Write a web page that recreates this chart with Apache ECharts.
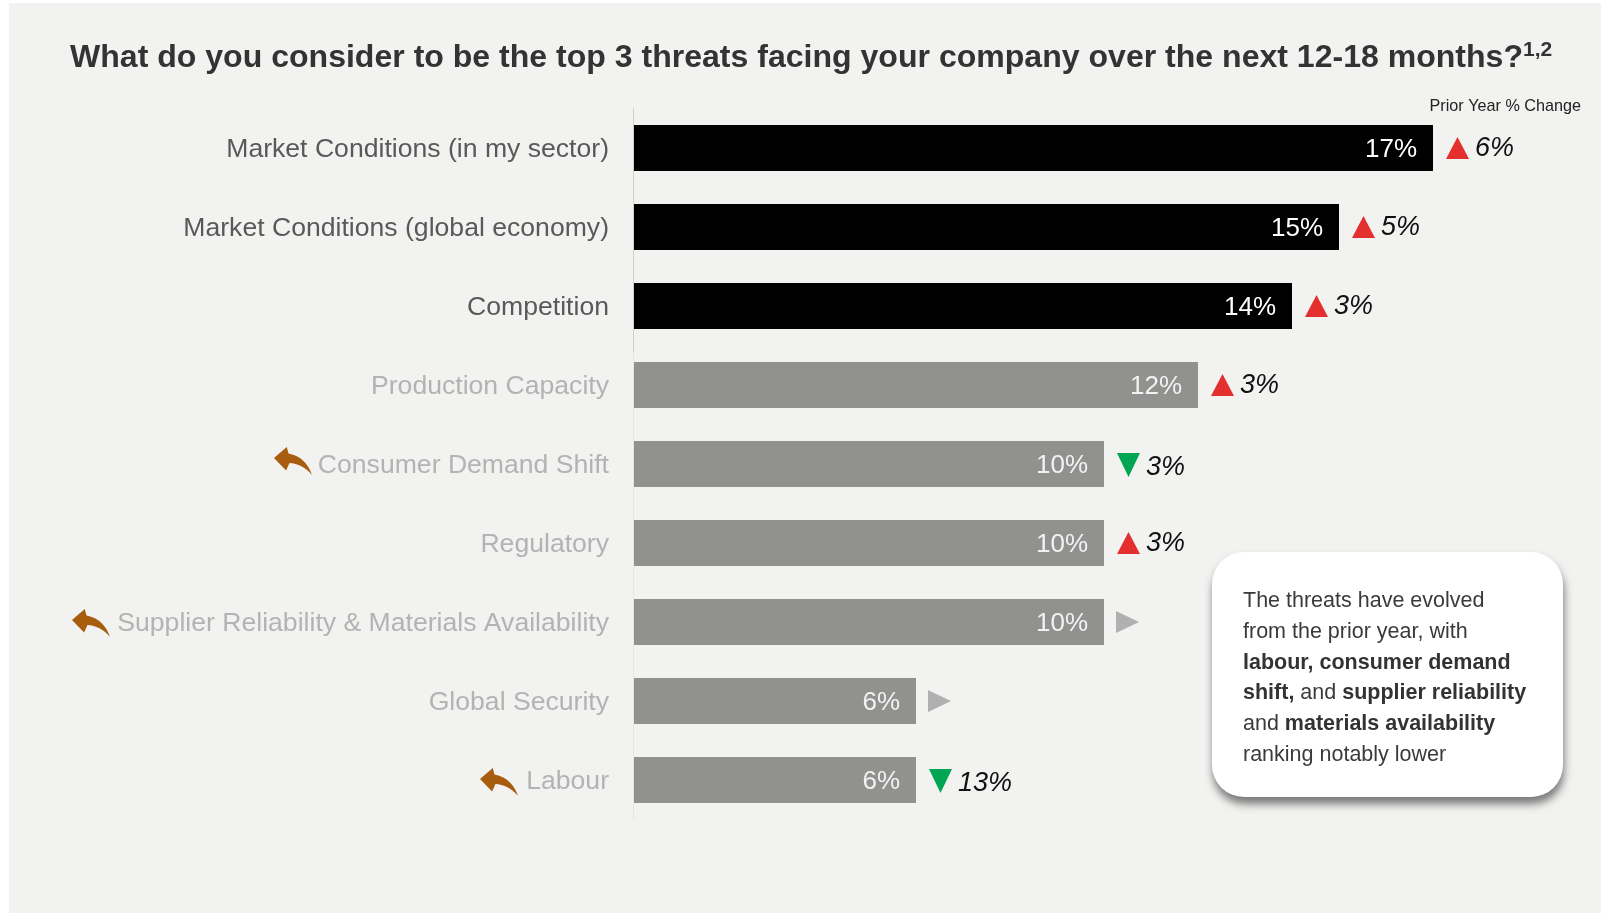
<!DOCTYPE html>
<html>
<head>
<meta charset="utf-8">
<style>html,body{margin:0;padding:0;background:#fff}#chart{width:1608px;height:913px}</style>
<script src="https://cdn.jsdelivr.net/npm/echarts@6/dist/echarts.min.js"></script>
</head>
<body>
<div id="chart"></div>
<script>
// Survey results, highest share first
const categories = [
  'Market Conditions (in my sector)',
  'Market Conditions (global economy)',
  'Competition',
  'Production Capacity',
  'Consumer Demand Shift',
  'Regulatory',
  'Supplier Reliability & Materials Availability',
  'Global Security',
  'Labour'
];
const shares = [17, 15, 14, 12, 10, 10, 10, 6, 6];
// Change against the prior year; 0 means flat
const priorYearChange = [6, 5, 3, 3, -3, 3, 0, 0, -13];
// Threats that moved down the ranking get a return arrow beside their name
const returningThreats = ['Consumer Demand Shift', 'Supplier Reliability & Materials Availability', 'Labour'];
const titleText = 'What do you consider to be the top 3 threats facing your company over the next 12-18 months?';
const footnoteMarks = '1,2';
const changeHeading = 'Prior Year % Change';

const FONT = '"Liberation Sans", Arial, sans-serif';
const HIGHLIGHT_COUNT = 3;
const ARROW_PATH = 'path://M0 32L38 0L43 19C83 27 103 52 113 82C95 60 70 48 46 47L36 69Z';
const arrowOffsets = { 'Consumer Demand Shift': [-341, -3], 'Supplier Reliability & Materials Availability': [-543, 1], 'Labour': [-135, 2] };

const chart = echarts.init(document.getElementById('chart'), null, { renderer: 'canvas' });

function renderChange(params, api) {
  const end = api.coord([api.value(0), api.value(1)]);
  const delta = api.value(2);
  const cy = end[1];
  const left = end[0] + 13;
  const w = 23, h = 22;
  let points, fill;
  if (delta > 0) {
    points = [[left, cy + h / 2], [left + w / 2, cy - h / 2], [left + w, cy + h / 2]];
    fill = '#e32f2e';
  } else if (delta < 0) {
    points = [[left, cy - h / 2], [left + w, cy - h / 2], [left + w / 2, cy + h / 2 + 2]];
    fill = '#00a651';
  } else {
    points = [[left - 1, cy - h / 2], [left + w - 1, cy], [left - 1, cy + h / 2]];
    fill = '#b0b0b0';
  }
  const children = [{ type: 'polygon', shape: { points }, style: { fill } }];
  if (delta !== 0) {
    children.push({
      type: 'text',
      style: {
        text: Math.abs(delta) + '%', x: left + 29, y: delta < 0 ? cy + 3 : cy,
        fontFamily: FONT, fontSize: 27, fontStyle: 'italic',
        fill: '#111', verticalAlign: 'middle', align: 'left'
      }
    });
  }
  return { type: 'group', children };
}

chart.setOption({
  animation: false,
  backgroundColor: '#fff',
  title: {
    left: 70, top: 36, padding: 0,
    text: '{t|' + titleText + '}{s|' + footnoteMarks + '}',
    textStyle: {
      rich: {
        t: { fontFamily: FONT, fontSize: 32.05, fontWeight: 'bold', color: '#333', lineHeight: 44 },
        s: { fontFamily: FONT, fontSize: 21, fontWeight: 'bold', color: '#333', verticalAlign: 'top', padding: [4, 0, 0, 0] }
      }
    }
  },
  grid: { left: 634, top: 108.5, width: 940, height: 711, containLabel: false },
  xAxis: { type: 'value', min: 0, max: 20, show: false },
  yAxis: {
    type: 'category', inverse: true, data: categories, offset: 1,
    axisTick: { show: false },
    axisLine: {
      show: true,
      onZero: false,
      lineStyle: {
        width: 1,
        color: {
          type: 'linear', global: true, x: 0, y: 108, x2: 0, y2: 820,
          colorStops: [
            { offset: 0, color: '#cfcfcf' }, { offset: 0.343, color: '#cfcfcf' },
            { offset: 0.343, color: '#e6e6e6' }, { offset: 1, color: '#e6e6e6' }
          ]
        }
      }
    },
    axisLabel: {
      margin: 24,
      formatter: (value, index) => (index < HIGHLIGHT_COUNT ? '{top|' : '{rest|') + value + '}',
      rich: {
        top: { fontFamily: FONT, fontSize: 26.6, color: '#595959', padding: [4, 0, 0, 0] },
        rest: { fontFamily: FONT, fontSize: 26.6, color: '#b3b3b3', padding: [4, 0, 0, 0] }
      }
    }
  },
  series: [
    {
      type: 'bar', barWidth: 46, z: 2,
      data: shares.map((v, i) => ({
        value: v,
        itemStyle: { color: i < HIGHLIGHT_COUNT ? '#000000' : '#91918f' },
        label: { color: i < HIGHLIGHT_COUNT ? '#ffffff' : '#f2f2f2' }
      })),
      label: {
        show: true, position: 'insideRight', distance: 16, offset: [0, 2],
        fontFamily: FONT, fontSize: 26, formatter: p => p.value + '%'
      }
    },
    {
      type: 'custom', z: 3, clip: false, silent: true,
      renderItem: renderChange,
      data: shares.map((v, i) => [v, i, priorYearChange[i]]),
      encode: { x: 0, y: 1 }
    },
    {
      type: 'scatter', z: 3, clip: false, silent: true,
      symbol: ARROW_PATH, symbolSize: [38, 28],
      itemStyle: { color: '#a85c0e', opacity: 1 },
      data: returningThreats.map(name => ({
        value: [0, categories.indexOf(name)],
        symbolOffset: arrowOffsets[name]
      }))
    }
  ],
  graphic: [
    { type: 'rect', z: -10, silent: true, shape: { x: 9, y: 3, width: 1592, height: 910 }, style: { fill: '#f2f2f1' } },
    {
      type: 'text', z: 5, silent: true, x: 1429.5, y: 106.5,
      style: { text: changeHeading, fontFamily: FONT, fontSize: 16.2, fill: '#222', verticalAlign: 'middle' }
    },
    {
      type: 'rect', z: 5, silent: true,
      shape: { x: 1212, y: 552, width: 351, height: 245, r: 32 },
      style: { fill: '#ffffff', shadowBlur: 9, shadowOffsetX: 1, shadowOffsetY: 7, shadowColor: 'rgba(0,0,0,0.5)' }
    },
    {
      type: 'text', z: 6, silent: true, x: 1243, y: 586,
      style: {
        text: [
          '{n|The threats have evolved}',
          '{n|from the prior year, with}',
          '{b|labour, consumer demand}',
          '{b|shift,}{n| and }{b|supplier reliability}',
          '{n|and }{b|materials availability}',
          '{n|ranking notably lower}'
        ].join('\n'),
        rich: {
          n: { fontFamily: FONT, fontSize: 21.5, fill: '#3a3a3a', lineHeight: 30.7 },
          b: { fontFamily: FONT, fontSize: 21.5, fontWeight: 'bold', fill: '#333', lineHeight: 30.7 }
        }
      }
    }
  ]
});
</script>
</body>
</html>
